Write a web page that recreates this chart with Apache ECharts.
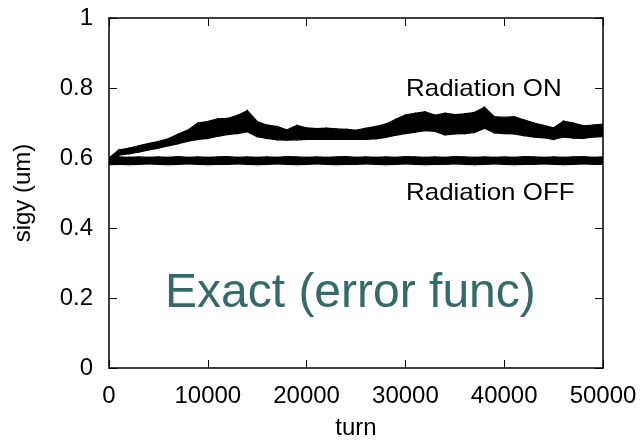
<!DOCTYPE html>
<html>
<head>
<meta charset="utf-8">
<script src="https://cdn.jsdelivr.net/npm/echarts@6/dist/echarts.min.js"></script>
<style>
  html, body { margin: 0; padding: 0; background: #fff; }
  #chart { width: 640px; height: 440px; }
</style>
</head>
<body>
<div id="chart"></div>
<script>
// Turn samples (every 1000 turns)
const turns = [];
for (let t = 0; t <= 50000; t += 1000) turns.push(t);

// Radiation ON: upper / lower envelope of the sigy band (um)
const onUpper = [
  0.600, 0.623, 0.628, 0.635, 0.641, 0.647, 0.655, 0.668, 0.680, 0.700,
  0.704, 0.712, 0.713, 0.722, 0.735, 0.704, 0.694, 0.690, 0.680, 0.693,
  0.686, 0.684, 0.685, 0.683, 0.682, 0.679, 0.685, 0.690, 0.697, 0.710,
  0.723, 0.728, 0.732, 0.722, 0.728, 0.724, 0.726, 0.730, 0.745, 0.718,
  0.716, 0.718, 0.709, 0.700, 0.693, 0.686, 0.705, 0.700, 0.692, 0.694,
  0.697
];
const onLower = [
  0.585, 0.608, 0.612, 0.617, 0.623, 0.628, 0.635, 0.641, 0.648, 0.653,
  0.656, 0.662, 0.667, 0.670, 0.675, 0.661, 0.656, 0.652, 0.651, 0.652,
  0.653, 0.653, 0.653, 0.653, 0.653, 0.653, 0.653, 0.655, 0.659, 0.665,
  0.670, 0.674, 0.678, 0.676, 0.666, 0.669, 0.670, 0.673, 0.685, 0.672,
  0.670, 0.669, 0.664, 0.660, 0.658, 0.653, 0.660, 0.657, 0.656, 0.660,
  0.661
];

// Radiation OFF: upper / lower envelope (um)
const offUpper = [
  0.604, 0.603, 0.602, 0.603, 0.602, 0.603, 0.602, 0.604, 0.602, 0.603,
  0.602, 0.603, 0.604, 0.602, 0.603, 0.602, 0.603, 0.602, 0.604, 0.603,
  0.602, 0.603, 0.602, 0.603, 0.604, 0.602, 0.603, 0.602, 0.603, 0.602,
  0.604, 0.603, 0.602, 0.603, 0.602, 0.604, 0.603, 0.602, 0.603, 0.602,
  0.603, 0.602, 0.604, 0.603, 0.602, 0.603, 0.602, 0.603, 0.604, 0.602,
  0.603
];
const offLower = [
  0.581, 0.582, 0.581, 0.582, 0.583, 0.582, 0.581, 0.582, 0.583, 0.582,
  0.581, 0.582, 0.582, 0.583, 0.582, 0.581, 0.582, 0.583, 0.582, 0.581,
  0.582, 0.583, 0.582, 0.581, 0.582, 0.582, 0.583, 0.582, 0.581, 0.582,
  0.583, 0.582, 0.581, 0.582, 0.582, 0.583, 0.582, 0.581, 0.582, 0.583,
  0.582, 0.581, 0.582, 0.582, 0.583, 0.582, 0.581, 0.582, 0.583, 0.582,
  0.582
];

// Axis ticks
const xTicks = [0, 10000, 20000, 30000, 40000, 50000];
const yTicks = [0, 0.2, 0.4, 0.6, 0.8, 1];

const seriesNames = ['Radiation ON', 'Radiation OFF'];
const titleText = 'Exact (error func)';
const xName = 'turn';
const yName = 'sigy (um)';

const FONT = '"Liberation Sans", Arial, Helvetica, sans-serif';
const INK = '#000';

// A filled band between a lower and an upper envelope, drawn segment by segment
function bandSeries(name, lo, hi) {
  return {
    type: 'custom',
    name: name,
    silent: true,
    clip: true,
    z: 3,
    data: turns.map((t, i) => [t, lo[i], hi[i]]),
    encode: { x: 0, y: [1, 2] },
    renderItem: function (params, api) {
      const i = params.dataIndex;
      if (i >= turns.length - 1) return null;
      const pts = [
        api.coord([turns[i], lo[i]]),
        api.coord([turns[i + 1], lo[i + 1]]),
        api.coord([turns[i + 1], hi[i + 1]]),
        api.coord([turns[i], hi[i]])
      ];
      return {
        type: 'polygon',
        shape: { points: pts },
        style: { fill: INK, stroke: INK, lineWidth: 1.3 }
      };
    }
  };
}

const axisLine = { show: true, onZero: false, lineStyle: { color: INK, width: 1.5 } };
const tickIn = { show: true, inside: true, length: 8, lineStyle: { color: INK, width: 1 } };
const labelStyle = { color: INK, fontFamily: FONT, fontSize: 24 };

const chart = echarts.init(document.getElementById('chart'), null, { renderer: 'canvas' });
chart.setOption({
  animation: false,
  backgroundColor: '#fff',
  grid: { left: 109, right: 37, top: 18, bottom: 72, containLabel: false, outerBoundsMode: 'none' },
  xAxis: [
    {
      type: 'value', min: xTicks[0], max: xTicks[xTicks.length - 1],
      interval: xTicks[1] - xTicks[0],
      axisLine, axisTick: tickIn, splitLine: { show: false },
      axisLabel: Object.assign({ margin: 16, formatter: v => String(v) }, labelStyle),
      name: xName, nameLocation: 'middle', nameGap: 48,
      nameTextStyle: labelStyle
    },
    {
      type: 'value', position: 'top', min: xTicks[0], max: xTicks[xTicks.length - 1],
      interval: xTicks[1] - xTicks[0],
      axisLine, axisTick: tickIn, axisLabel: { show: false }, splitLine: { show: false }
    }
  ],
  yAxis: [
    {
      type: 'value', min: yTicks[0], max: yTicks[yTicks.length - 1],
      interval: 0.2,
      axisLine, axisTick: tickIn, splitLine: { show: false },
      axisLabel: Object.assign({ margin: 16, formatter: v => String(+v.toFixed(1)) }, labelStyle),
      name: yName, nameLocation: 'middle', nameGap: 74, nameRotate: 90,
      nameTextStyle: labelStyle
    },
    {
      type: 'value', position: 'right', min: yTicks[0], max: yTicks[yTicks.length - 1],
      interval: 0.2,
      axisLine, axisTick: tickIn, axisLabel: { show: false }, splitLine: { show: false }
    }
  ],
  series: [
    bandSeries(seriesNames[1], offLower, offUpper),
    bandSeries(seriesNames[0], onLower, onUpper)
  ],
  graphic: [
    {
      type: 'text', x: 406, y: 89, scaleX: 1.08,
      style: { text: seriesNames[0], fill: INK, font: '24px ' + FONT, verticalAlign: 'middle' }
    },
    {
      type: 'text', x: 406, y: 193, scaleX: 1.08,
      style: { text: seriesNames[1], fill: INK, font: '24px ' + FONT, verticalAlign: 'middle' }
    },
    {
      type: 'text', x: 165, y: 294,
      style: { text: titleText, fill: '#336b66', font: '48px ' + FONT, verticalAlign: 'middle' }
    }
  ]
});
</script>
</body>
</html>
